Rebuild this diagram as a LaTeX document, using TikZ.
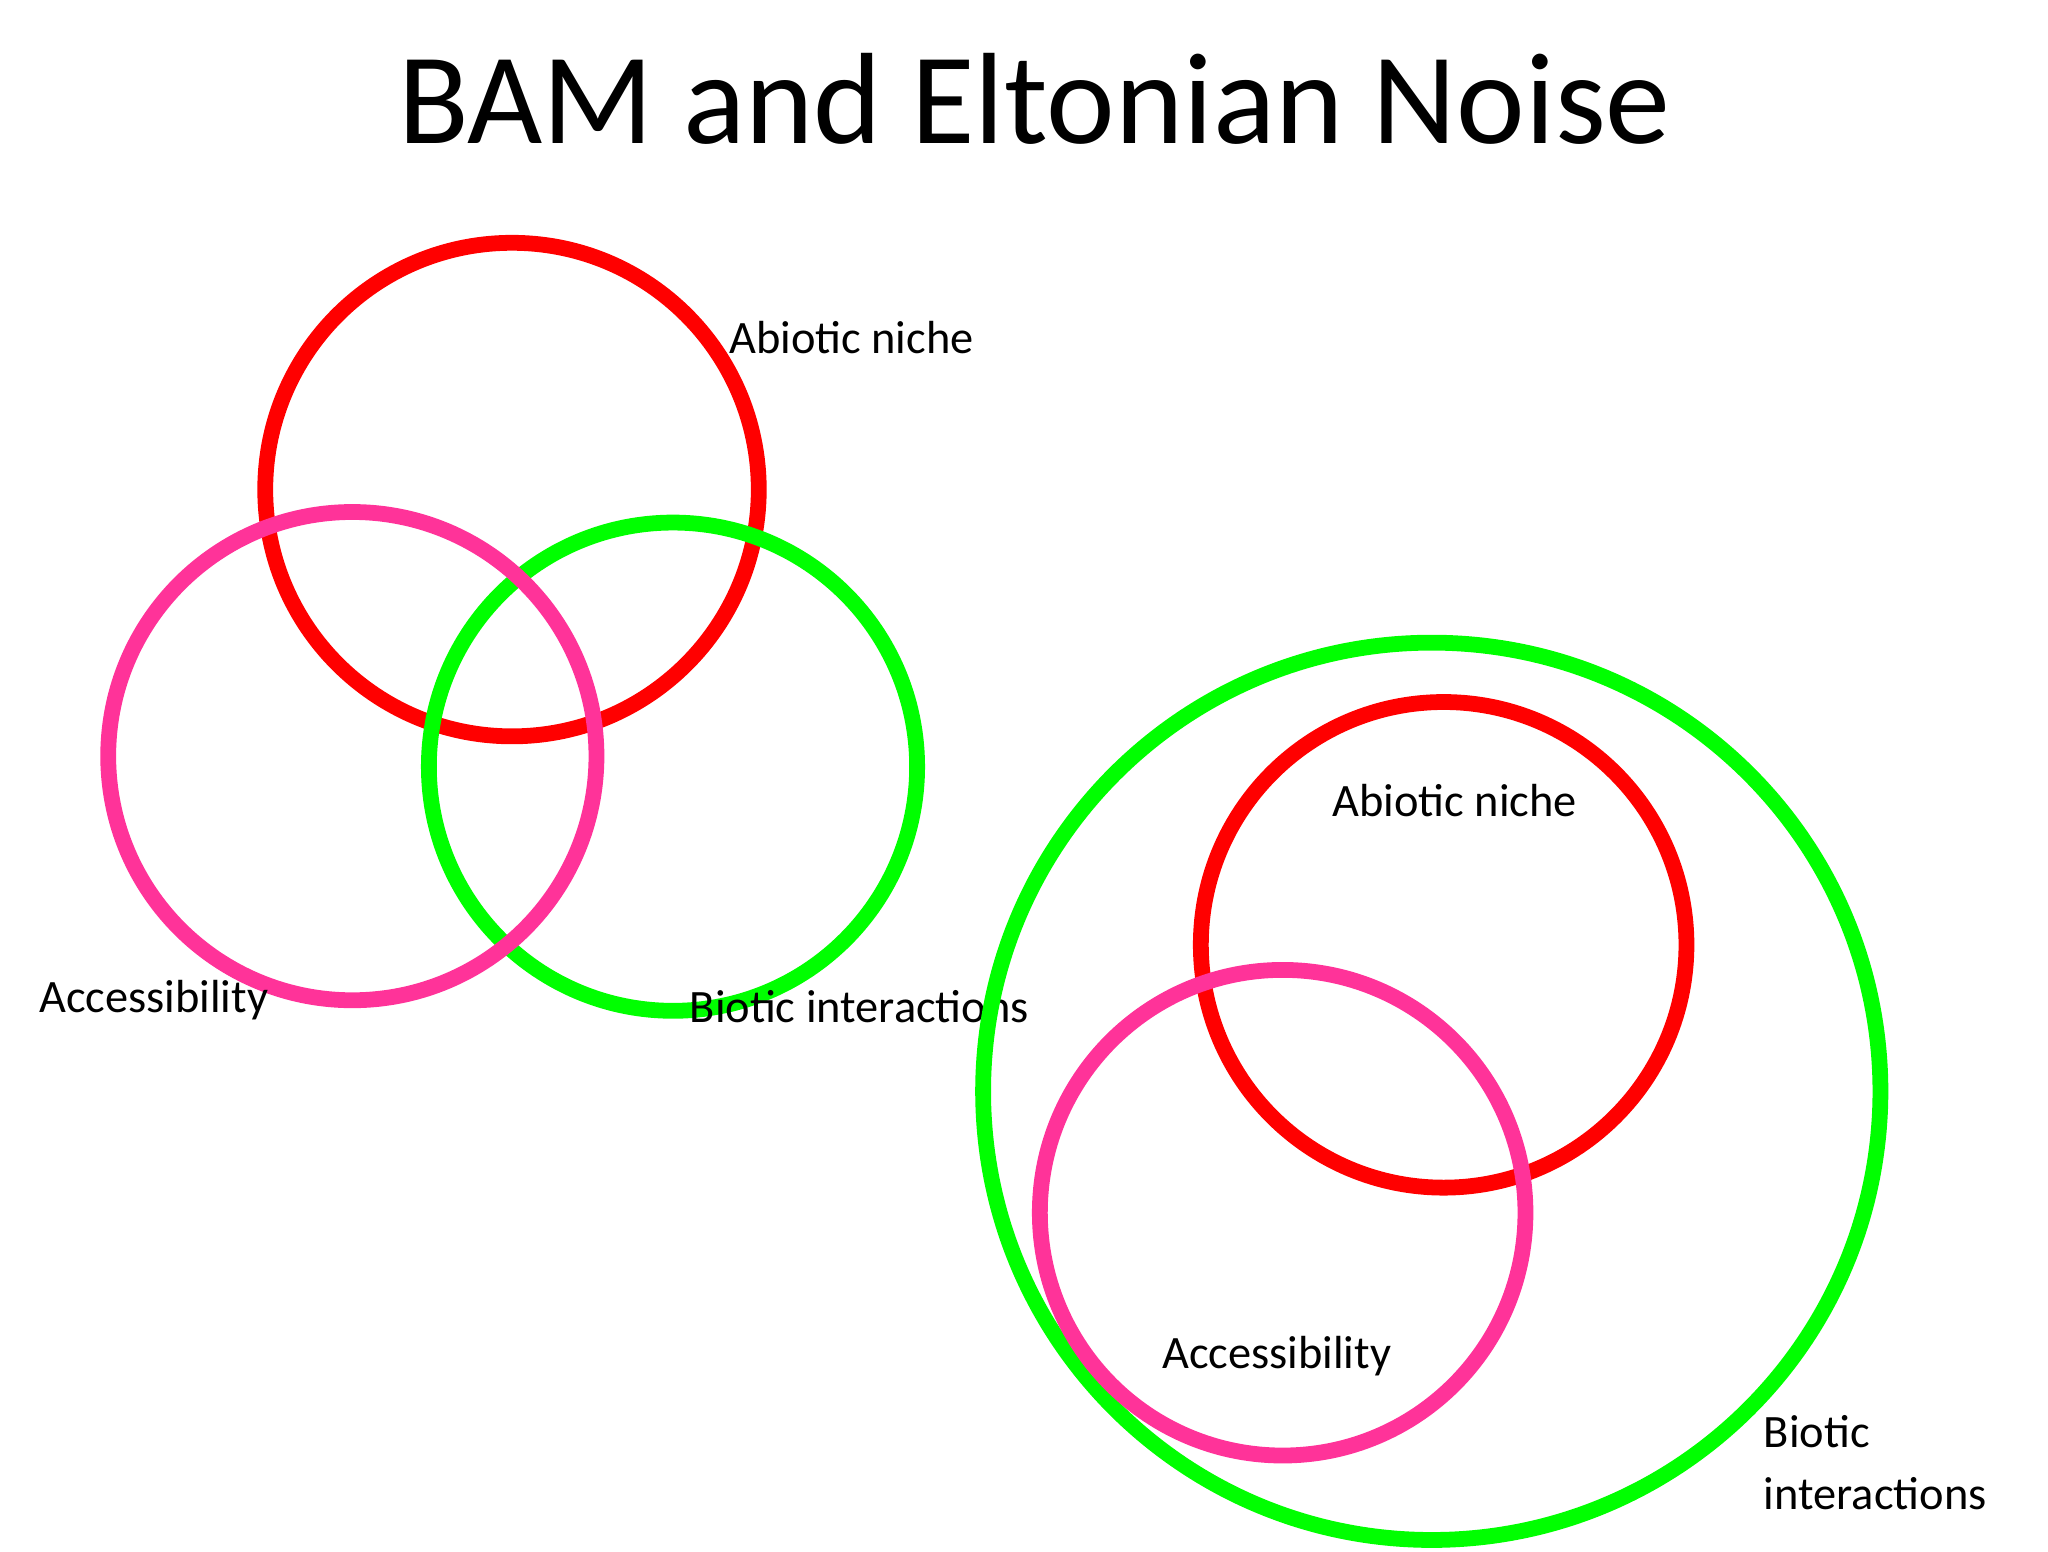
\documentclass[tikz,border=0pt]{standalone}
\usepackage{fontspec}
\setmainfont{Carlito}
\definecolor{cred}{RGB}{255,0,0}
\definecolor{cpink}{RGB}{255,51,153}
\definecolor{cgreen}{RGB}{0,255,0}
\begin{document}
\begin{tikzpicture}[x=0.01cm,y=-0.01cm,
  ring/.style={line width=3.4pt},
  lab/.style={font=\fontsize{10}{12}\selectfont, inner sep=0pt, anchor=west, align=left}]
\useasboundingbox (0,0) rectangle (1552,1176);
\node[font=\fontsize{28}{32}\selectfont] (title) at (784,75) {BAM and Eltonian Noise};
% left Venn
\draw[ring,cred] (388,371) circle[radius=187];
\draw[ring,cgreen] (510,581) circle[radius=185];
\draw[ring,cpink] (267,573) circle[radius=185];
\node[lab] (a1) at (552,256) {Abiotic niche};
\node[lab] (c1) at (29,758) {Accessibility};
\node[lab] (b1) at (522,763) {Biotic interactions};
% right nested
\draw[ring,cgreen] (1085,827) circle[radius=340];
\draw[ring,cred] (1094,716) circle[radius=184];
\draw[ring,cpink] (972,919) circle[radius=184];
\node[lab] (a2) at (1009,607) {Abiotic niche};
\node[lab] (c2) at (880,1028) {Accessibility};
\node[lab] (b2) at (1336,1085) {Biotic};
\node[lab] (b3) at (1336,1132) {interactions};
\end{tikzpicture}
\end{document}
